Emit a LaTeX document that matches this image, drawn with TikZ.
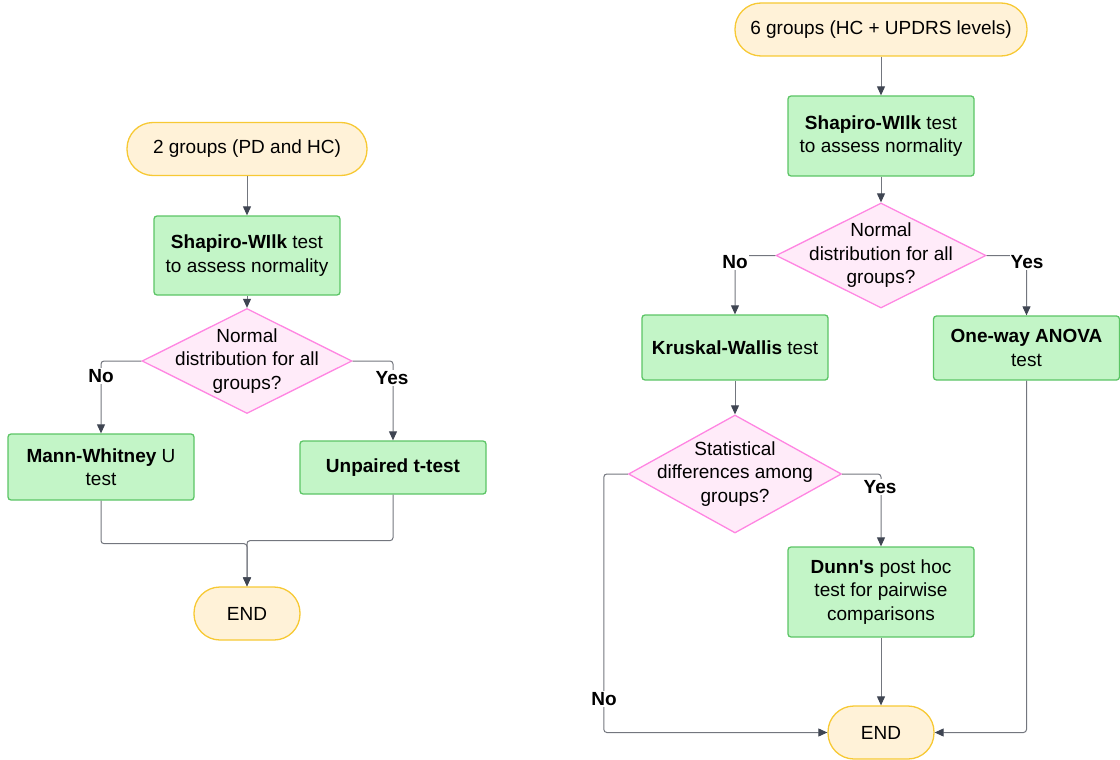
\documentclass[tikz,border=0pt]{standalone}
\usepackage{fontspec}
\setmainfont{Liberation Sans}
\usetikzlibrary{shapes.geometric,arrows.meta}
\definecolor{termfill}{HTML}{FFF2D8}
\definecolor{termline}{HTML}{F7C934}
\definecolor{procfill}{HTML}{C3F5C7}
\definecolor{procline}{HTML}{5CC566}
\definecolor{decfill}{HTML}{FFEBF9}
\definecolor{decline}{HTML}{FF85E2}
\definecolor{flowline}{HTML}{73767E}
\definecolor{tipcol}{HTML}{3F4552}

\begin{document}
\begin{tikzpicture}
            [x=1pt, y=-1pt,
            every node/.style={font=\fontsize{19}{23.5}\selectfont, align=center, inner sep=0pt},
            term/.style={draw=termline, fill=termfill, line width=1.3pt, rounded corners=26pt, minimum height=53pt},
            proc/.style={draw=procline, fill=procfill, line width=1.3pt, rounded corners=3pt, minimum width=186pt},
            decision/.style={diamond, draw=decline, fill=decfill, line width=1.3pt, minimum width=210pt, minimum height=105pt},
            flow/.style={draw=flowline, line width=1pt, rounded corners=3pt, -{Triangle[length=9pt, width=8pt, color=tipcol]}},
            answer/.style={fill=white, font=\fontsize{19}{23.5}\selectfont\bfseries, inner sep=1pt}]
            \useasboundingbox (0,0) rectangle (1120,760);
            % two groups
            \node[term, minimum width=240pt] (start1) at (247,149) {2 groups (PD and HC)};
            \node[proc, minimum height=79pt] (sw1) at (247,255.5) {\textbf{Shapiro-WIlk} test\\to assess normality};
            \node[decision, label={center:{Normal\\distribution for all\\groups?}}] (dec1) at (247,361) {};
            \node[proc, minimum height=66pt] (mw) at (101,467) {\textbf{Mann-Whitney} U\\test};
            \node[proc, minimum height=53pt] (ut) at (393,467.5) {\textbf{Unpaired t-test}};
            \node[term, minimum width=106pt] (end1) at (247,613.5) {END};
            \draw[flow] (start1) -- (sw1);
            \draw[flow] (sw1) -- (dec1);
            \draw[flow] (dec1.west) -| (mw);
            \draw[flow] (dec1.east) -| (ut);
            \draw[flow] (mw.south) -- ++(0,43) -| (end1);
            \draw[flow] (ut.south) -- ++(0,46) -| (end1);
            \node[answer] (no1) at (101,376) {No};
            \node[answer] (yes1) at (392,378) {Yes};
            % six groups
            \node[term, minimum width=292pt] (start2) at (881,29.5) {6 groups (HC + UPDRS levels)};
            \node[proc, minimum height=80pt] (sw2) at (881,136) {\textbf{Shapiro-WIlk} test\\to assess normality};
            \node[decision, label={center:{Normal\\distribution for all\\groups?}}] (dec2) at (881,255.5) {};
            \node[proc, minimum height=65pt] (kw) at (735,347.5) {\textbf{Kruskal-Wallis} test};
            \node[proc, minimum height=64pt] (anova) at (1026.5,348) {\textbf{One-way ANOVA}\\test};
            \node[decision, minimum width=213pt, minimum height=118pt,
                label={center:{Statistical\\differences among\\groups?}}] (dec3) at (735,474) {};
            \node[proc, minimum height=90pt] (dunn) at (881,592) {\textbf{Dunn\textquotesingle s} post hoc\\test for pairwise\\comparisons};
            \node[term, minimum width=106pt] (end2) at (881,732.5) {END};
            \draw[flow] (start2) -- (sw2);
            \draw[flow] (sw2) -- (dec2);
            \draw[flow] (dec2.west) -| (kw);
            \draw[flow] (dec2.east) -| (anova);
            \draw[flow] (kw) -- (dec3);
            \draw[flow] (dec3.east) -| (dunn);
            \draw[flow] (dec3.west) -- ++(-24,0) |- (end2);
            \draw[flow] (dunn) -- (end2);
            \draw[flow] (anova) |- (end2);
            \node[answer] (no2) at (735,262) {No};
            \node[answer] (yes2) at (1027,262) {Yes};
            \node[answer] (yes3) at (880,487) {Yes};
            \node[answer] (no3) at (604,699) {No};
        \end{tikzpicture}
\end{document}
